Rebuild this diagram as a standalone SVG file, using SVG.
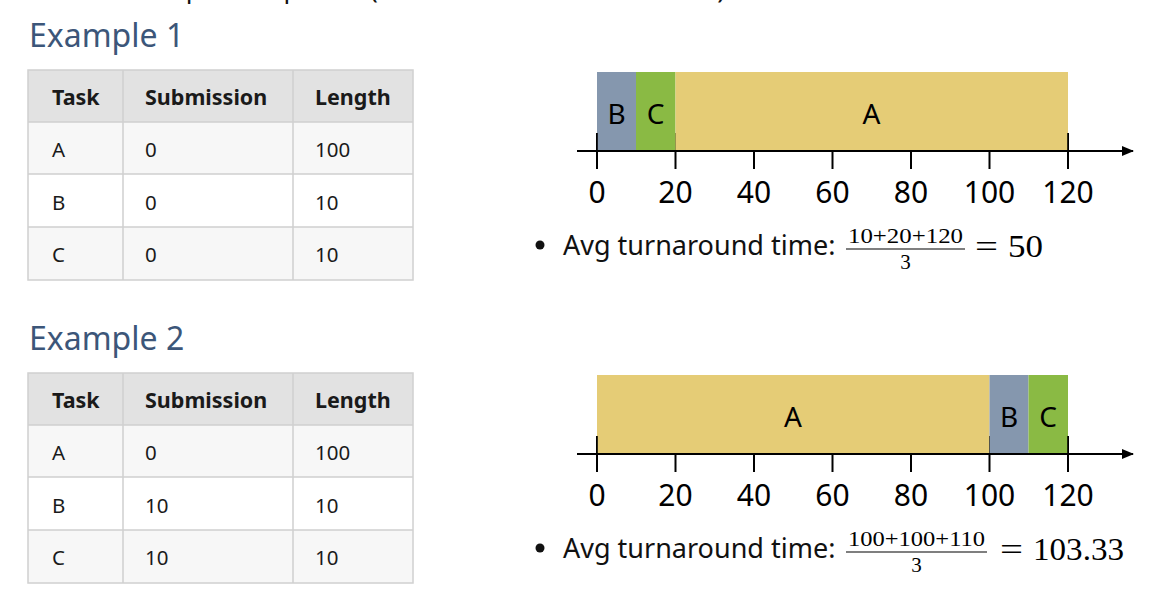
<svg xmlns="http://www.w3.org/2000/svg" width="1156" height="604" viewBox="0 0 1156 604">
<style>
.bg{fill:#ffffff}
.h{font-family:"Noto Sans","Open Sans",sans-serif;font-size:32px;fill:#3c5679}
.th{font-family:"Noto Sans","Open Sans",sans-serif;font-size:21.5px;font-weight:bold;fill:#1a1a1a}
.td{font-family:"Noto Sans","Open Sans",sans-serif;font-size:20.5px;fill:#1a1a1a}
.grid{stroke:#d0d0d0;stroke-width:1.5;fill:none}
.hdr{fill:#e2e2e2}
.odd{fill:#f7f7f7}
.even{fill:#ffffff}
.barA{fill:#e5cc76}
.barB{fill:#8597ae}
.barC{fill:#8aba44}
.bl{font-family:"Noto Sans","Open Sans",sans-serif;font-size:28px;fill:#000;text-anchor:middle}
.tick{stroke:#000;stroke-width:2}
.axis{stroke:#000;stroke-width:2;fill:none}
.tl{font-family:"Noto Sans","Open Sans",sans-serif;font-size:30px;fill:#000;text-anchor:middle}
.txt{font-family:"Noto Sans","Open Sans",sans-serif;font-size:27px;fill:#111}
.m{font-family:"Liberation Serif","Times New Roman",serif;fill:#000}
.top{font-family:"Noto Sans","Open Sans",sans-serif;font-size:26px;fill:#111}
</style>
<defs>
<marker id="arr" viewBox="0 0 12 10" refX="11" refY="5" markerWidth="12" markerHeight="10" markerUnits="userSpaceOnUse" orient="auto">
<path d="M0,0 L12,5 L0,10 Z" fill="#000"/>
</marker>
</defs>
<rect class="bg" x="0" y="0" width="1156" height="604"/>

<text class="top" x="143" y="-2" textLength="582" lengthAdjust="spacing">Drop assumption 2 (tasks submitted at same time)</text>

<g id="example1">
<text class="h" x="29" y="47">Example 1</text>
<g id="table1">
<rect class="hdr" x="28" y="70" width="385" height="52"/>
<rect class="odd" x="28" y="122" width="385" height="52"/>
<rect class="even" x="28" y="174" width="385" height="53"/>
<rect class="odd" x="28" y="227" width="385" height="53"/>
<rect class="grid" x="28" y="70" width="385" height="210"/>
<path class="grid" d="M28,122H413M28,174H413M28,227H413M123,70V280M293,70V280"/>
<text class="th" x="52" y="105">Task</text>
<text class="th" x="145" y="105">Submission</text>
<text class="th" x="315" y="105">Length</text>
<text class="td" x="52" y="157">A</text><text class="td" x="145" y="157">0</text><text class="td" x="315" y="157">100</text>
<text class="td" x="52" y="210">B</text><text class="td" x="145" y="210">0</text><text class="td" x="315" y="210">10</text>
<text class="td" x="52" y="262">C</text><text class="td" x="145" y="262">0</text><text class="td" x="315" y="262">10</text>
</g>
<g id="chart1">
<g class="ticks">
<line class="tick" x1="597" y1="133" x2="597" y2="169"/>
<line class="tick" x1="675.5" y1="133" x2="675.5" y2="169"/>
<line class="tick" x1="754" y1="151" x2="754" y2="169"/>
<line class="tick" x1="832.5" y1="151" x2="832.5" y2="169"/>
<line class="tick" x1="911" y1="151" x2="911" y2="169"/>
<line class="tick" x1="989.5" y1="151" x2="989.5" y2="169"/>
<line class="tick" x1="1068" y1="133" x2="1068" y2="169"/>
</g>
<g id="bar1B"><rect class="barB" x="597" y="72" width="39" height="79"/><text class="bl" x="616.5" y="124">B</text></g>
<g id="bar1C"><rect class="barC" x="636" y="72" width="39.5" height="79"/><text class="bl" x="655.5" y="124">C</text></g>
<g id="bar1A"><rect class="barA" x="675.5" y="72" width="392.5" height="79"/><text class="bl" x="871.5" y="124">A</text></g>
<line class="tick" x1="597" y1="133" x2="597" y2="151" stroke-opacity="0.8"/>
<line class="tick" x1="1068" y1="133" x2="1068" y2="151" stroke-opacity="0.8"/>
<line class="axis" x1="577" y1="151" x2="1133" y2="151" marker-end="url(#arr)"/>
<text class="tl" x="597" y="203">0</text>
<text class="tl" x="675.5" y="203">20</text>
<text class="tl" x="754" y="203">40</text>
<text class="tl" x="832.5" y="203">60</text>
<text class="tl" x="911" y="203">80</text>
<text class="tl" x="989.5" y="203">100</text>
<text class="tl" x="1068" y="203">120</text>
</g>
<g id="avg1">
<circle cx="540" cy="245" r="4.5" fill="#111"/>
<text class="txt" x="563" y="255">Avg turnaround time:</text>
<text class="m" x="848" y="243" font-size="21" textLength="115" lengthAdjust="spacingAndGlyphs">10+20+120</text>
<line x1="846" y1="249" x2="965" y2="249" stroke="#000" stroke-width="1.2"/>
<text class="m" x="905.5" y="269" font-size="21" text-anchor="middle">3</text>
<text class="m" x="975" y="257" font-size="31" textLength="23" lengthAdjust="spacingAndGlyphs">=</text>
<text class="m" x="1008" y="257" font-size="31" textLength="35" lengthAdjust="spacingAndGlyphs">50</text>
</g>
</g>

<g id="example2">
<text class="h" x="29" y="350">Example 2</text>
<g id="table2">
<rect class="hdr" x="28" y="373" width="385" height="52"/>
<rect class="odd" x="28" y="425" width="385" height="52"/>
<rect class="even" x="28" y="477" width="385" height="53"/>
<rect class="odd" x="28" y="530" width="385" height="53"/>
<rect class="grid" x="28" y="373" width="385" height="210"/>
<path class="grid" d="M28,425H413M28,477H413M28,530H413M123,373V583M293,373V583"/>
<text class="th" x="52" y="408">Task</text>
<text class="th" x="145" y="408">Submission</text>
<text class="th" x="315" y="408">Length</text>
<text class="td" x="52" y="460">A</text><text class="td" x="145" y="460">0</text><text class="td" x="315" y="460">100</text>
<text class="td" x="52" y="513">B</text><text class="td" x="145" y="513">10</text><text class="td" x="315" y="513">10</text>
<text class="td" x="52" y="565">C</text><text class="td" x="145" y="565">10</text><text class="td" x="315" y="565">10</text>
</g>
<g id="chart2">
<g class="ticks">
<line class="tick" x1="597" y1="436" x2="597" y2="472"/>
<line class="tick" x1="675.5" y1="454" x2="675.5" y2="472"/>
<line class="tick" x1="754" y1="454" x2="754" y2="472"/>
<line class="tick" x1="832.5" y1="454" x2="832.5" y2="472"/>
<line class="tick" x1="911" y1="454" x2="911" y2="472"/>
<line class="tick" x1="989.5" y1="436" x2="989.5" y2="472"/>
<line class="tick" x1="1068" y1="436" x2="1068" y2="472"/>
</g>
<g id="bar2A"><rect class="barA" x="597" y="375" width="392.5" height="79"/><text class="bl" x="793" y="427">A</text></g>
<g id="bar2B"><rect class="barB" x="989.5" y="375" width="39" height="79"/><text class="bl" x="1009" y="427">B</text></g>
<g id="bar2C"><rect class="barC" x="1028.5" y="375" width="39.5" height="79"/><text class="bl" x="1048" y="427">C</text></g>
<line class="tick" x1="597" y1="436" x2="597" y2="454" stroke-opacity="0.8"/>
<line x1="989.5" y1="436" x2="989.5" y2="454" stroke="#000" stroke-width="1" stroke-opacity="0.35"/>
<line class="tick" x1="1068" y1="436" x2="1068" y2="454" stroke-opacity="0.8"/>
<line class="axis" x1="577" y1="454" x2="1133" y2="454" marker-end="url(#arr)"/>
<text class="tl" x="597" y="506">0</text>
<text class="tl" x="675.5" y="506">20</text>
<text class="tl" x="754" y="506">40</text>
<text class="tl" x="832.5" y="506">60</text>
<text class="tl" x="911" y="506">80</text>
<text class="tl" x="989.5" y="506">100</text>
<text class="tl" x="1068" y="506">120</text>
</g>
<g id="avg2">
<circle cx="540" cy="548" r="4.5" fill="#111"/>
<text class="txt" x="563" y="558">Avg turnaround time:</text>
<text class="m" x="848" y="546" font-size="21" textLength="137" lengthAdjust="spacingAndGlyphs">100+100+110</text>
<line x1="846" y1="552" x2="987" y2="552" stroke="#000" stroke-width="1.2"/>
<text class="m" x="916.5" y="572" font-size="21" text-anchor="middle">3</text>
<text class="m" x="1000" y="560" font-size="31" textLength="23" lengthAdjust="spacingAndGlyphs">=</text>
<text class="m" x="1033" y="560" font-size="31" textLength="91" lengthAdjust="spacingAndGlyphs">103.33</text>
</g>
</g>
</svg>
